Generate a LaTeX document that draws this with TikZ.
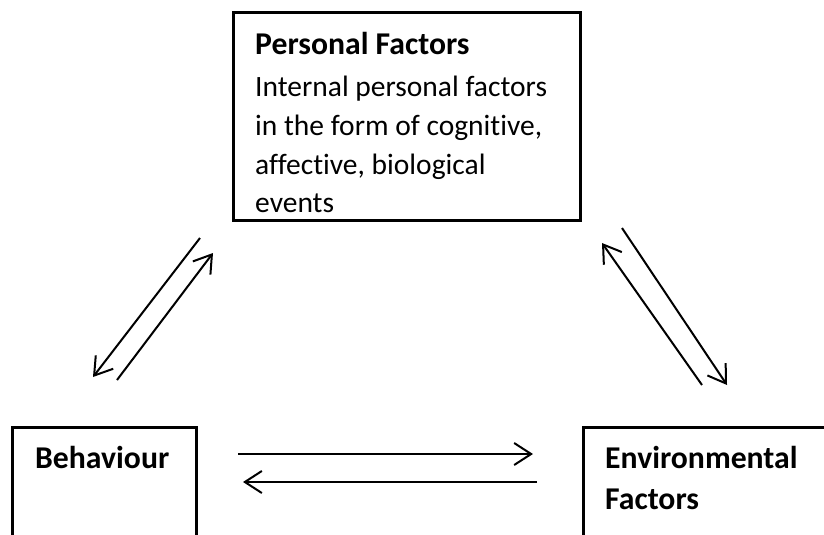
\documentclass[tikz,border=0pt]{standalone}
\usepackage{fontspec}
\setmainfont{Carlito}[Ligatures=NoCommon]
\usetikzlibrary{arrows.meta}
\begin{document}
\begin{tikzpicture}[x=1pt,y=-1pt,
  frame/.style={draw,line width=3pt,line join=miter},
  txt/.style={anchor=base west,inner sep=0pt,font=\fontsize{29.5}{35}\selectfont},
  head/.style={anchor=base west,inner sep=0pt,font=\fontsize{31.7}{38}\selectfont\bfseries},
  link/.style={line width=2pt,-{Straight Barb[length=17pt,width=22pt,line width=2pt]}}]
\useasboundingbox (0,0) rectangle (824,535);
\clip (0,0) rectangle (824,535);

% boxes
\draw[frame] (233,13) rectangle (580,220);
\draw[frame] (12,427) rectangle (196,560);
\draw[frame] (583,427) rectangle (840,560);

% Personal factors
\node[head] (pfh) at (255,55) {Personal Factors};
\node[txt] (pf1) at (255,96) {Internal personal factors};
\node[txt] (pf2) at (255,135) {in the form of cognitive,};
\node[txt] (pf3) at (255,174) {affective, biological};
\node[txt] (pf4) at (255,212) {events};

% Behaviour
\node[head] (beh) at (35,468) {Behaviour};

% Environmental factors
\node[head] (env1) at (605,468) {Environmental};
\node[head] (env2) at (605,509) {Factors};

% arrow end points
\coordinate (a1s) at (200,238);  \coordinate (a1e) at (93,377);
\coordinate (a2s) at (117,380);  \coordinate (a2e) at (213,253);
\coordinate (a3s) at (622,228);  \coordinate (a3e) at (727,385);
\coordinate (a4s) at (702,385);  \coordinate (a4e) at (602,243);
\coordinate (a5s) at (238,454);  \coordinate (a5e) at (533,454);
\coordinate (a6s) at (537,482);  \coordinate (a6e) at (243,482);

\draw[link] (a1s) -- (a1e);
\draw[link] (a2s) -- (a2e);
\draw[link] (a3s) -- (a3e);
\draw[link] (a4s) -- (a4e);
\draw[link] (a5s) -- (a5e);
\draw[link] (a6s) -- (a6e);
\end{tikzpicture}
\end{document}
